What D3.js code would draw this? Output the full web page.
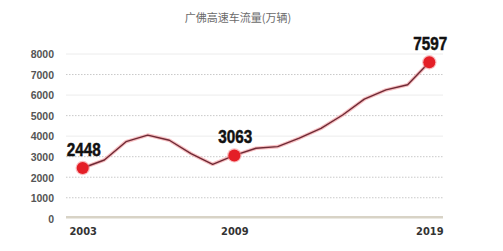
<!DOCTYPE html>
<html>
<head>
<meta charset="utf-8">
<script src="https://cdn.jsdelivr.net/npm/d3@7"></script>
<style>
  html, body { margin: 0; padding: 0; background: #fff; }
  svg { display: block; }
</style>
</head>
<body>
<svg id="chart" width="503" height="251"></svg>
<script>
const title = '广佛高速车流量(万辆)';

// one point per year, 2003 .. 2019
const years = [2003, 2004, 2005, 2006, 2007, 2008, 2009, 2010, 2011, 2012, 2013, 2014, 2015, 2016, 2017, 2018, 2019];
const traffic = [2448, 2840, 3730, 4050, 3800, 3150, 2630, 3063, 3410, 3490, 3900, 4380, 5030, 5800, 6250, 6500, 7597];

// highlighted points and the x tick labels printed under them
const markedIdx = [0, 7, 16];
const xTickLabels = ['2003', '2009', '2019'];

const yTicks = [0, 1000, 2000, 3000, 4000, 5000, 6000, 7000, 8000];
const solidGrid = [4000, 6000, 8000];

const svg = d3.select('#chart');

const margin = { left: 66, right: 60, top: 54, bottom: 33 };
const width = 503, height = 251;

// points sit inside the grid, a bit in from its ends
const x = d3.scalePoint()
    .domain(d3.range(years.length))
    .range([82.7, 429.3]);

const y = d3.scaleLinear()
    .domain([0, 8000])
    .range([height - margin.bottom + 0.3, margin.top]);

const gridX0 = margin.left, gridX1 = width - margin.right;

svg.append('text')
    .attr('x', 238)
    .attr('y', 21.5)
    .attr('text-anchor', 'middle')
    .attr('font-family', '"Noto Sans CJK SC", sans-serif')
    .attr('font-size', 11)
    .attr('fill', '#6a6a6a')
    .text(title);

// grid lines
const grid = svg.append('g').attr('class', 'grid');
grid.selectAll('line')
    .data(yTicks.filter(d => d > 0))
    .enter().append('line')
    .attr('x1', gridX0)
    .attr('x2', gridX1)
    .attr('y1', d => y(d))
    .attr('y2', d => y(d))
    .attr('stroke', d => solidGrid.includes(d) ? '#ececec' : '#c9c9c9')
    .attr('stroke-width', 1)
    .attr('stroke-dasharray', d => solidGrid.includes(d) ? null : '1.5,1.5');

// base line
svg.append('line')
    .attr('x1', gridX0)
    .attr('x2', gridX1)
    .attr('y1', y(0) - 1)
    .attr('y2', y(0) - 1)
    .attr('stroke', '#d8d3c6')
    .attr('stroke-width', 2.6);

// y axis labels
const yAxis = svg.append('g')
    .attr('transform', 'translate(54,0)')
    .call(d3.axisLeft(y).tickValues(yTicks).tickSize(0).tickPadding(0).tickFormat(d3.format('d')));
yAxis.select('.domain').remove();
yAxis.selectAll('.tick text')
    .attr('font-family', '"Liberation Sans", Arial, sans-serif')
    .attr('font-weight', 'bold')
    .attr('font-size', 10.5)
    .attr('fill', '#555')
    .attr('dy', '0.36em');

// x axis labels, under the highlighted points
const xAxis = svg.append('g')
    .attr('transform', 'translate(0,' + (y(0) + 8) + ')')
    .call(d3.axisBottom(x).tickValues(markedIdx).tickSize(0).tickPadding(0)
        .tickFormat((d, i) => xTickLabels[i]));
xAxis.select('.domain').remove();
xAxis.selectAll('.tick text')
    .attr('font-family', '"DejaVu Sans Condensed", "DejaVu Sans", sans-serif')
    .attr('font-stretch', 'condensed')
    .attr('font-weight', 'bold')
    .attr('font-size', 11)
    .attr('fill', '#333')
    .attr('dy', '0.75em');

// line with a soft red halo
const line = d3.line()
    .x((d, i) => x(i))
    .y(d => y(d));

svg.append('path')
    .datum(traffic)
    .attr('d', line)
    .attr('fill', 'none')
    .attr('stroke', '#f4a9ad')
    .attr('stroke-opacity', 0.75)
    .attr('stroke-width', 3.6)
    .attr('stroke-linejoin', 'round');

svg.append('path')
    .datum(traffic)
    .attr('d', line)
    .attr('fill', 'none')
    .attr('stroke', '#6e2a35')
    .attr('stroke-width', 1.4)
    .attr('stroke-linejoin', 'round');

// markers
const marks = svg.append('g').selectAll('g')
    .data(markedIdx)
    .enter().append('g');

marks.append('circle')
    .attr('cx', i => x(i))
    .attr('cy', i => y(traffic[i]))
    .attr('r', 7.2)
    .attr('fill', '#f47c80')
    .attr('opacity', 0.5);

marks.append('circle')
    .attr('cx', i => x(i))
    .attr('cy', i => y(traffic[i]))
    .attr('r', 6)
    .attr('fill', '#e41e26');

// big condensed value labels
marks.append('text')
    .attr('x', i => x(i) + 1)
    .attr('y', i => y(traffic[i]) - 12)
    .attr('text-anchor', 'middle')
    .attr('font-family', '"Liberation Sans", Arial, sans-serif')
    .attr('font-weight', 'bold')
    .attr('font-size', 19)
    .attr('textLength', 34)
    .attr('lengthAdjust', 'spacingAndGlyphs')
    .attr('stroke', '#111')
    .attr('stroke-width', 0.5)
    .attr('fill', '#111')
    .text(i => traffic[i]);
</script>
</body>
</html>
